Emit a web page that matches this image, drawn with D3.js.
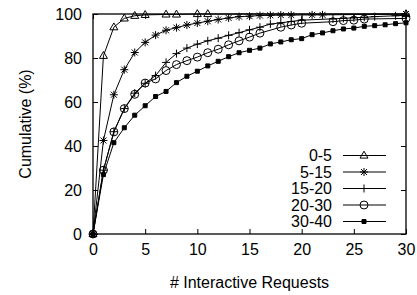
<!DOCTYPE html>
<html>
<head>
<meta charset="utf-8">
<script src="https://cdn.jsdelivr.net/npm/d3@7"></script>
<style>
  html, body { margin: 0; padding: 0; background: #fff; }
  text { font-family: "Liberation Sans", Arial, sans-serif; fill: #000; }
</style>
</head>
<body>
<script>
// Chart size
const WIDTH = 417;
const HEIGHT = 295;
const margin = { top: 14, right: 11, bottom: 61, left: 93 };

// Data
const seriesNames = ['0-5', '5-15', '15-20', '20-30', '30-40'];
const xTicks = [0, 5, 10, 15, 20, 25, 30];
const yTicks = [0, 20, 40, 60, 80, 100];

const x0to5 = [0, 1, 2, 3, 4, 5, 7, 8, 10, 11, 30];
const y0to5 = [0, 81, 94, 98, 99.2, 99.6, 99.8, 99.8, 100, 100, 100];

const x5to15 = [0, 1, 2, 3, 4, 5, 6, 7, 8, 9, 10, 11, 12, 13, 14, 15, 16, 17, 18, 19, 21, 22, 30];
const y5to15 = [0, 42.5, 63.3, 74.7, 82.5, 87.1, 90.4, 92.6, 93.8, 95, 95.9, 96.7, 97.5, 98.2, 98.8, 99, 99.3, 99.4, 99.5, 99.5, 99.6, 99.6, 100];

const x15to20 = [0, 1, 2, 3, 4, 5, 6, 7, 8, 9, 10, 11, 12, 13, 14, 15, 16, 17, 18, 19, 20, 23, 24, 25, 26, 27, 29, 30];
const y15to20 = [0, 29, 46.5, 57, 64, 68.5, 72, 78, 82, 84.5, 86.3, 87.8, 89, 90.3, 91.5, 92.8, 94, 95.4, 96, 96.6, 97.2, 97.8, 98, 98.3, 98.5, 98.8, 99.2, 99.4];

const x20to30 = [0, 1, 2, 3, 4, 5, 6, 7, 8, 9, 10, 11, 12, 13, 14, 15, 16, 18, 19, 20, 23, 24, 25, 26, 30];
const y20to30 = [0, 29, 46.4, 57, 63.5, 68.6, 70.5, 74.3, 77, 78.8, 80.4, 82.4, 84, 86, 87.8, 89.5, 91.3, 94, 95, 95.8, 96.5, 97, 97.2, 97.7, 98];

const x30to40 = [0, 1, 2, 3, 4, 5, 6, 7, 8, 9, 10, 11, 12, 13, 14, 15, 16, 17, 18, 19, 20, 21, 22, 23, 24, 25, 26, 27, 28, 29, 30];
const y30to40 = [0, 27, 41.5, 48.3, 54, 58.3, 62.5, 64.8, 68.8, 71.7, 74, 76.4, 78.5, 80.6, 82.4, 83.5, 84.5, 86.4, 87.3, 88.3, 88.8, 90.6, 91.4, 92.4, 93.2, 93.6, 94.4, 94.7, 95.1, 95.6, 96];

const seriesX = [x0to5, x5to15, x15to20, x20to30, x30to40];
const seriesY = [y0to5, y5to15, y15to20, y20to30, y30to40];

// Marker shapes, gnuplot style
const markerKinds = ['triangle', 'asterisk', 'plus', 'circle', 'square'];

function markerPath(kind) {
    if (kind === 'triangle') return 'M0,-4.3L4,2.6L-4,2.6Z';
    if (kind === 'asterisk') return 'M-4,0H4M0,-4V4M-3,-3L3,3M-3,3L3,-3';
    if (kind === 'plus') return 'M-4,0H4M0,-4V4';
    if (kind === 'circle') return d3.symbol(d3.symbolCircle, 50)();
    return 'M-2,-2H2V2H-2Z';
}

function drawMarkers(g, points, kind) {
    g.selectAll(null)
        .data(points)
        .join('path')
        .attr('transform', d => `translate(${d[0]},${d[1]})`)
        .attr('d', markerPath(kind))
        .attr('fill', kind === 'square' ? '#000' : 'none')
        .attr('stroke', '#000')
        .attr('stroke-width', 1);
}

function main() {
    const svg = d3.select('body').append('svg')
        .attr('width', WIDTH)
        .attr('height', HEIGHT);

    const x = d3.scaleLinear().domain([0, 30]).range([margin.left, WIDTH - margin.right]);
    const y = d3.scaleLinear().domain([0, 100]).range([HEIGHT - margin.bottom, margin.top]);

    const plot = svg.append('g');

    // series lines and markers
    const line = d3.line().x(d => x(d[0])).y(d => y(d[1]));
    seriesNames.forEach((name, i) => {
        const pts = seriesX[i].map((v, j) => [v, seriesY[i][j]]);
        plot.append('path')
            .attr('d', line(pts))
            .attr('fill', 'none')
            .attr('stroke', '#000')
            .attr('stroke-width', 1);
        drawMarkers(plot.append('g'), pts.map(p => [x(p[0]), y(p[1])]), markerKinds[i]);
    });

    // axes with inward ticks, mirrored on top and right
    const axisStyle = g => {
        g.select('.domain').remove();
        g.selectAll('.tick line').attr('stroke', '#000').attr('stroke-width', 1);
        g.selectAll('.tick text')
            .style('font-family', '"Liberation Sans", Arial, sans-serif')
            .style('font-size', '16px')
            .attr('fill', '#000');
    };

    svg.append('g')
        .attr('transform', `translate(0,${y(0)})`)
        .call(d3.axisBottom(x).tickValues(xTicks).tickSize(-5).tickPadding(10).tickFormat(d3.format('d')))
        .call(axisStyle);
    svg.append('g')
        .attr('transform', `translate(0,${y(100)})`)
        .call(d3.axisTop(x).tickValues(xTicks).tickSize(-5).tickFormat(''))
        .call(axisStyle);
    svg.append('g')
        .attr('transform', `translate(${x(0)},0)`)
        .call(d3.axisLeft(y).tickValues(yTicks).tickSize(-5).tickPadding(11).tickFormat(d3.format('d')))
        .call(axisStyle);
    svg.append('g')
        .attr('transform', `translate(${x(30)},0)`)
        .call(d3.axisRight(y).tickValues(yTicks).tickSize(-5).tickFormat(''))
        .call(axisStyle);

    // frame
    svg.append('rect')
        .attr('x', x(0))
        .attr('y', y(100))
        .attr('width', x(30) - x(0))
        .attr('height', y(0) - y(100))
        .attr('fill', 'none')
        .attr('stroke', '#000')
        .attr('stroke-width', 1.3);

    // axis titles
    svg.append('text')
        .attr('x', (x(0) + x(30)) / 2)
        .attr('y', 288)
        .attr('text-anchor', 'middle')
        .style('font-size', '16px')
        .text('# Interactive Requests');

    svg.append('text')
        .attr('transform', `translate(31,${(y(0) + y(100)) / 2}) rotate(-90)`)
        .attr('text-anchor', 'middle')
        .style('font-size', '16px')
        .text('Cumulative (%)');

    // legend
    const legend = svg.append('g');
    seriesNames.forEach((name, i) => {
        const ly = 155.5 + i * 16.5;
        legend.append('text')
            .attr('x', 332)
            .attr('y', ly)
            .attr('dy', '0.35em')
            .attr('text-anchor', 'end')
            .style('font-size', '16px')
            .text(name);
        legend.append('line')
            .attr('x1', 343).attr('x2', 386)
            .attr('y1', ly).attr('y2', ly)
            .attr('stroke', '#000')
            .attr('stroke-width', 1);
        drawMarkers(legend.append('g'), [[364, ly]], markerKinds[i]);
    });
}

main();
</script>
</body>
</html>
